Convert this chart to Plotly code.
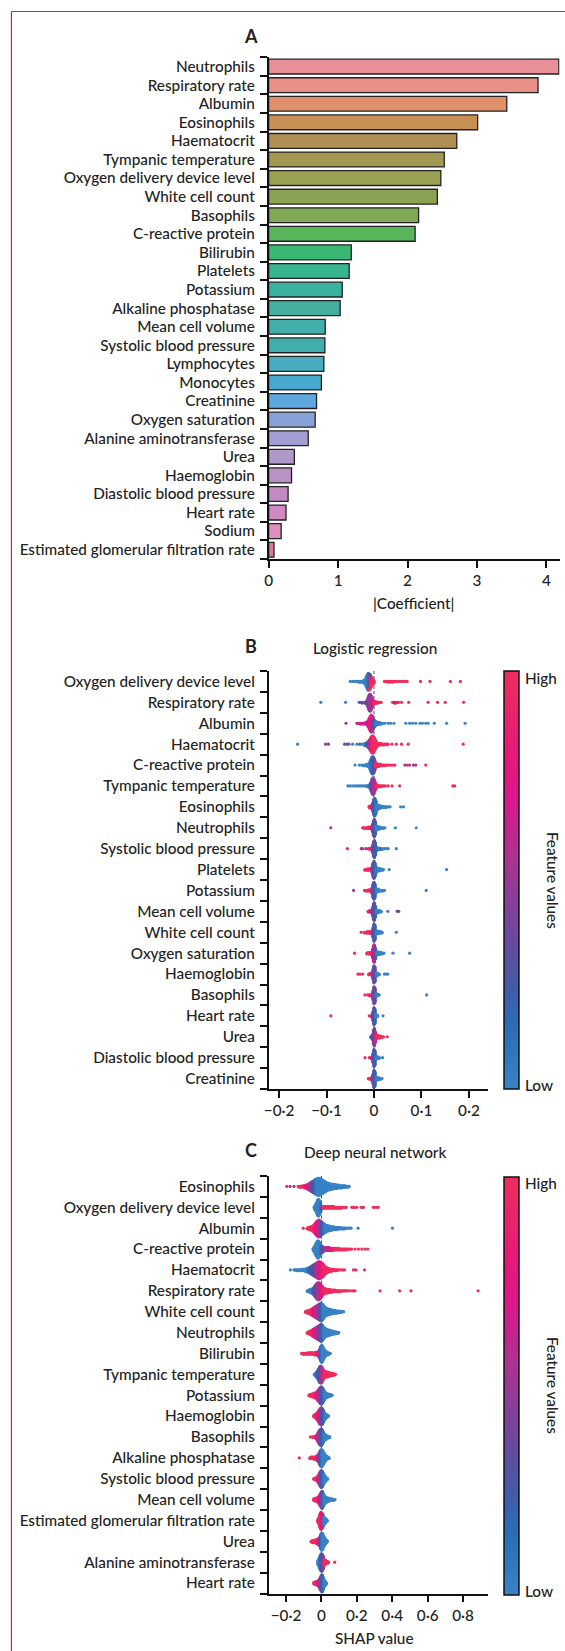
import math
import plotly.graph_objects as go

W, H = 565, 1651
FONT = "Lato"
TXT = "#222222"
WEIGHT = 500

# ---------------- Panel A data ----------------
A_features = ["Neutrophils", "Respiratory rate", "Albumin", "Eosinophils", "Haematocrit",
              "Tympanic temperature", "Oxygen delivery device level", "White cell count",
              "Basophils", "C-reactive protein", "Bilirubin", "Platelets", "Potassium",
              "Alkaline phosphatase", "Mean cell volume", "Systolic blood pressure",
              "Lymphocytes", "Monocytes", "Creatinine", "Oxygen saturation",
              "Alanine aminotransferase", "Urea", "Haemoglobin", "Diastolic blood pressure",
              "Heart rate", "Sodium", "Estimated glomerular filtration rate"]
A_values = [4.18, 3.88, 3.43, 3.01, 2.71, 2.53, 2.48, 2.43, 2.16, 2.11, 1.19, 1.16, 1.06,
            1.03, 0.815, 0.81, 0.795, 0.76, 0.69, 0.67, 0.57, 0.37, 0.33, 0.28, 0.25, 0.18, 0.077]
A_colors = ["#E8909A", "#E89088", "#E09068", "#C89052", "#B09052", "#A39852", "#99A052",
            "#8AA253", "#80A855", "#58B65A", "#3AB772", "#38B58E", "#38B19E", "#44AF9E",
            "#42AEA8", "#42AEAC", "#47ADBE", "#48A8CE", "#5EA7DE", "#88A2D8", "#A2A0D2",
            "#B098C8", "#B892C3", "#C28BC0", "#D08AC2", "#DE8EC0", "#D8789E"]
A_ticks = [0, 1, 2, 3, 4]

# ---------------- Panel B data (logistic regression SHAP) ----------------
B_features = ["Oxygen delivery device level", "Respiratory rate", "Albumin", "Haematocrit",
              "C-reactive protein", "Tympanic temperature", "Eosinophils", "Neutrophils",
              "Systolic blood pressure", "Platelets", "Potassium", "Mean cell volume",
              "White cell count", "Oxygen saturation", "Haemoglobin", "Basophils",
              "Heart rate", "Urea", "Diastolic blood pressure", "Creatinine"]
# each entry: (SHAP value, number of stacked points, feature level 0=low..1=high)
B_swarm = [
    [(-0.050,1,0),(-0.045,1,0),(-0.041,1,0),(-0.038,1,0),(-0.035,1,0),(-0.032,2,0),(-0.029,2,0),(-0.026,2,0),(-0.023,3,0),
     (-0.020,6,0),(-0.018,10,0),(-0.016,16,0),(-0.014,22,0),(-0.012,26,0.1),(-0.010,18,0.2),(-0.010,6,1),(-0.008,14,0.3),(-0.008,8,1),
     (-0.006,6,0.5),(-0.006,10,1),(-0.004,10,1),(-0.002,8,1),(0.000,4,1),
     (0.022,1,1),(0.025,1,1),(0.028,2,1),(0.031,1,1),(0.034,2,1),(0.037,1,1),(0.040,2,1),(0.043,1,1),(0.046,1,1),(0.050,1,1),
     (0.054,1,1),(0.058,1,1),(0.062,1,1),(0.066,1,1),(0.070,1,1),(0.098,1,1),(0.118,1,1),(0.161,1,1),(0.182,1,1)],
    [(-0.112,1,0),(-0.060,1,0),(-0.031,1,0.2),(-0.028,1,0.5),(-0.025,2,0.4),(-0.020,2,0.3),
     (-0.016,4,0.3),(-0.014,10,0.4),(-0.012,18,0.4),(-0.010,24,0.5),(-0.008,26,0.45),(-0.006,22,0.5),(-0.004,14,0.6),(-0.002,8,0.7),(0.000,4,0.8),
     (0.002,4,1),(0.004,3,1),(0.006,2,1),(0.008,2,1),(0.010,1,1),(0.012,1,1),(0.015,1,1),
     (0.039,1,1),(0.043,2,0.5),(0.046,2,0.7),(0.049,1,1),(0.052,1,1),(0.058,1,1),(0.073,1,1),(0.114,1,1),(0.134,1,1),(0.150,1,1),(0.189,1,1)],
    [(-0.059,1,0.5),(-0.036,1,0.6),(-0.033,1,0.7),(-0.030,2,0.6),(-0.027,2,0.7),(-0.024,2,0.8),(-0.021,2,0.6),(-0.018,3,0.7),
     (-0.014,6,0.6),(-0.012,10,0.7),(-0.010,16,0.8),(-0.008,22,0.8),(-0.006,18,1),(-0.006,8,0.4),(-0.004,24,0.7),(-0.002,18,0.5),
     (0.000,12,0.3),(0.002,8,0.2),
     (0.004,6,0),(0.006,5,0),(0.008,4,0),(0.010,3,0),(0.012,3,0),(0.014,2,0),(0.016,2,0),(0.019,1,0),(0.023,1,0),(0.030,1,0),
     (0.035,1,0),(0.042,1,0),(0.067,1,0),(0.075,1,0),(0.081,1,0),(0.088,1,0),(0.097,1,0),(0.102,1,0),(0.109,1,0),(0.114,1,0),
     (0.127,1,0),(0.153,1,0),(0.192,1,0)],
    [(-0.161,1,0),(-0.102,1,0.5),(-0.096,1,0.4),(-0.062,1,0.3),(-0.057,1,0.5),(-0.053,1,0.2),(-0.045,1,0),(-0.036,1,0),(-0.030,1,0.2),(-0.026,1,0),
     (-0.020,4,0),(-0.016,6,0.2),(-0.012,10,0.3),(-0.010,14,0.4),(-0.008,18,0.6),(-0.006,24,0.8),(-0.004,28,0.9),(-0.002,28,1),
     (0.000,24,1),(0.002,18,1),(0.004,12,1),(0.006,8,1),
     (0.009,4,1),(0.012,3,1),(0.015,3,1),(0.018,2,1),(0.021,2,1),(0.024,1,1),(0.027,2,1),(0.030,1,1),(0.038,1,1),(0.047,1,1),
     (0.058,1,1),(0.072,1,1),(0.188,1,1)],
    [(-0.040,1,0),(-0.031,1,0),(-0.026,1,0),(-0.022,2,0),(-0.019,2,0),(-0.016,3,0),(-0.013,4,0),
     (-0.010,8,0),(-0.008,14,0),(-0.006,20,0.1),(-0.004,26,0.1),(-0.002,26,0.2),(0.000,22,0.3),(0.002,14,0.4),
     (0.004,6,1),(0.006,5,1),(0.008,4,1),(0.010,4,1),(0.012,3,1),(0.014,3,1),(0.017,2,1),(0.020,2,1),(0.023,2,1),(0.026,1,1),
     (0.029,1,1),(0.032,1,1),(0.036,1,1),(0.040,1,1),(0.044,1,1),(0.065,1,0.5),(0.070,1,1),(0.075,1,0.5),(0.083,1,0.5),
     (0.088,1,0.6),(0.109,1,1)],
    [(-0.055,1,0),(-0.050,1,0),(-0.045,1,0),(-0.040,1,0),(-0.036,1,0),(-0.032,1,0),(-0.028,1,0),(-0.024,1,0),(-0.020,1,0),
     (-0.017,1,0),(-0.014,2,0),(-0.011,3,0),
     (-0.008,8,0.2),(-0.006,14,0.3),(-0.004,22,0.4),(-0.002,26,0.4),(0.000,22,0.5),(0.002,14,0.6),(0.004,8,0.8),
     (0.006,4,1),(0.009,3,1),(0.012,2,1),(0.015,2,1),(0.018,1,1),(0.021,1,1),(0.024,1,1),(0.030,1,1),(0.038,1,1),
     (0.054,1,1),(0.166,1,1),(0.170,1,1)],
    [(-0.010,3,1),(-0.008,4,1),(-0.006,5,1),(-0.004,6,0.8),
     (-0.002,16,0.5),(0.000,28,0.3),(0.002,30,0.2),(0.004,22,0.1),
     (0.006,10,0),(0.008,8,0),(0.010,6,0),(0.012,5,0),(0.014,4,0),(0.016,3,0),(0.018,3,0),(0.020,2,0),(0.022,2,0),
     (0.025,2,0),(0.028,1,0),(0.031,1,0),(0.034,1,0),(0.056,1,0),(0.062,1,0)],
    [(-0.091,1,0.5),(-0.024,1,1),(-0.021,2,1),(-0.018,2,1),(-0.015,2,1),(-0.012,3,1),(-0.009,3,1),(-0.006,4,0.8),
     (-0.003,14,0.6),(-0.001,26,0.4),(0.001,30,0.3),(0.003,22,0.2),
     (0.005,8,0),(0.008,6,0),(0.011,4,0),(0.014,3,0),(0.017,2,0),(0.020,2,0),(0.023,1,0),(0.045,1,0),(0.089,1,0)],
    [(-0.056,1,1),(-0.027,1,0.5),(-0.024,1,0.6),(-0.017,1,0.5),(-0.012,1,0.8),(-0.009,2,1),(-0.006,3,0.8),
     (-0.003,12,0.6),(-0.001,24,0.4),(0.001,28,0.3),(0.003,20,0.2),
     (0.005,6,0.2),(0.008,4,0.1),(0.011,3,0),(0.014,2,0.2),(0.018,2,0),(0.022,1,0),(0.026,1,0),(0.030,1,0),(0.047,1,0)],
    [(-0.019,2,1),(-0.016,2,1),(-0.013,3,1),(-0.010,3,1),(-0.007,3,1),
     (-0.004,10,0.6),(-0.002,22,0.5),(0.000,28,0.3),(0.002,22,0.2),(0.004,12,0.1),
     (0.006,6,0),(0.009,5,0),(0.012,4,0),(0.015,3,0),(0.018,2,0),(0.020,1,0),(0.032,1,0),(0.153,1,0)],
    [(-0.043,1,0.5),(-0.020,1,1),(-0.017,2,1),(-0.014,2,1),(-0.011,3,1),(-0.008,3,1),
     (-0.004,10,0.6),(-0.002,22,0.5),(0.000,28,0.3),(0.002,22,0.2),
     (0.005,6,0),(0.008,5,0),(0.011,3,0),(0.014,2,0),(0.018,2,0),(0.022,1,0),(0.110,1,0)],
    [(-0.012,2,0.6),(-0.009,3,0.8),(-0.006,4,0.8),
     (-0.003,14,0.6),(-0.001,26,0.4),(0.001,28,0.3),(0.003,18,0.2),
     (0.006,6,0),(0.009,4,0),(0.012,3,0),(0.015,2,0),(0.029,1,0),(0.049,1,0.4),(0.052,1,0.3)],
    [(-0.027,1,0.5),(-0.020,2,1),(-0.017,2,1),(-0.014,3,1),(-0.011,3,1),(-0.008,4,1),(-0.005,4,0.8),
     (-0.002,16,0.5),(0.000,28,0.3),(0.002,24,0.2),
     (0.005,6,0),(0.008,5,0),(0.011,4,0),(0.014,3,0),(0.017,2,0),(0.047,1,0)],
    [(-0.041,1,1),(-0.015,2,1),(-0.012,3,1),(-0.009,3,1),(-0.006,4,1),
     (-0.003,14,0.8),(-0.001,26,0.7),(0.001,28,0.5),(0.003,18,0.3),
     (0.006,6,0),(0.009,5,0),(0.012,4,0),(0.015,3,0),(0.018,2,0),(0.021,1,0),(0.040,1,0),(0.075,1,0)],
    [(-0.034,1,1),(-0.030,1,1),(-0.024,1,1),(-0.011,2,1),(-0.008,3,1),(-0.005,4,0.8),
     (-0.002,16,0.6),(0.000,28,0.4),(0.002,24,0.3),
     (0.005,6,0),(0.008,4,0),(0.011,2,0),(0.022,1,0),(0.026,1,0),(0.029,1,0)],
    [(-0.019,1,1),(-0.013,1,1),(-0.010,2,1),(-0.007,2,1),(-0.004,4,0.8),
     (-0.002,14,0.6),(0.000,26,0.4),(0.002,22,0.3),
     (0.005,5,0),(0.008,3,0),(0.011,1,0),(0.111,1,0)],
    [(-0.091,1,1),(-0.010,1,1),(-0.006,2,1),(-0.004,4,0.6),
     (-0.002,14,0.4),(0.000,26,0.3),(0.002,22,0.2),
     (0.004,5,0),(0.007,3,0),(0.019,1,0)],
    [(-0.007,2,0),(-0.005,4,0.2),(-0.003,8,0.4),
     (-0.001,22,0.4),(0.001,26,0.4),(0.003,16,0.6),
     (0.005,6,1),(0.008,5,1),(0.011,4,1),(0.014,3,1),(0.017,2,1),(0.020,1,1),(0.028,1,1)],
    [(-0.019,1,1),(-0.010,1,1),(-0.006,2,1),(-0.004,4,0.7),
     (-0.002,14,0.5),(0.000,26,0.3),(0.002,22,0.2),
     (0.005,5,0),(0.008,3,0),(0.011,2,0),(0.018,1,0)],
    [(-0.012,1,1),(-0.009,2,1),(-0.006,3,1),(-0.004,4,0.7),
     (-0.002,14,0.5),(0.000,26,0.3),(0.002,22,0.2),
     (0.005,5,0),(0.008,4,0),(0.011,3,0),(0.014,2,0),(0.017,1,0)],
]
B_ticks = [-0.2, -0.1, 0, 0.1, 0.2]
B_ticktext = ["\u22120\u00b72", "\u22120\u00b71", "0", "0\u00b71", "0\u00b72"]

# ---------------- Panel C data (deep neural network SHAP) ----------------
C_features = ["Eosinophils", "Oxygen delivery device level", "Albumin", "C-reactive protein",
              "Haematocrit", "Respiratory rate", "White cell count", "Neutrophils", "Bilirubin",
              "Tympanic temperature", "Potassium", "Haemoglobin", "Basophils",
              "Alkaline phosphatase", "Systolic blood pressure", "Mean cell volume",
              "Estimated glomerular filtration rate", "Urea", "Alanine aminotransferase", "Heart rate"]
C_swarm = [
    [(-0.196,1,1),(-0.177,1,0.6),(-0.155,1,0.5),(-0.131,1,1),(-0.125,2,1),(-0.118,2,1),(-0.112,2,1),(-0.106,3,1),(-0.100,3,1),
     (-0.094,4,0.9),(-0.088,5,0.8),(-0.082,6,0.8),(-0.076,8,0.7),(-0.070,10,0.6),(-0.064,12,0.5),
     (-0.058,14,0.5),(-0.052,16,0.4),(-0.046,18,0.3),(-0.040,20,0.2),(-0.034,22,0.1),(-0.028,24,0.05),(-0.022,26,0),
     (-0.016,26,0),(-0.010,26,0),(-0.004,24,0),(0.002,22,0),(0.008,20,0),(0.014,18,0),(0.020,16,0),
     (0.026,14,0),(0.032,12,0),(0.038,11,0),(0.044,10,0),(0.050,9,0),(0.056,8,0),(0.062,8,0),(0.068,7,0),(0.074,7,0),
     (0.080,6,0),(0.086,6,0),(0.092,5,0),(0.098,5,0),(0.104,4,0),(0.110,4,0),(0.116,4,0),(0.122,3,0),(0.128,3,0),
     (0.134,3,0),(0.140,2,0),(0.146,2,0),(0.152,2,0),(0.157,1,0)],
    [(-0.040,4,0),(-0.034,8,0),(-0.028,14,0),(-0.022,20,0),(-0.016,22,0),(-0.010,18,0),(-0.004,10,0.1),(0.002,4,0.3),
     (0.010,3,1),(0.016,3,1),(0.022,3,1),(0.028,3,1),(0.034,3,1),(0.040,3,1),(0.046,3,1),(0.052,3,1),(0.058,3,1),
     (0.064,3,1),(0.070,3,1),(0.076,2,1),(0.082,2,1),(0.088,2,1),(0.094,2,1),(0.100,2,1),(0.106,2,1),(0.112,2,1),
     (0.118,1,1),(0.124,1,1),(0.130,1,1),(0.140,1,1),(0.172,1,1),(0.180,1,1),(0.186,1,1),(0.200,1,1),(0.224,1,1),
     (0.230,1,1),(0.237,1,1),(0.293,1,1),(0.300,1,1),(0.314,1,1),(0.321,1,1)],
    [(-0.103,1,1),(-0.080,2,1),(-0.074,3,1),(-0.068,4,1),(-0.062,5,1),(-0.056,6,1),(-0.050,8,1),(-0.044,10,1),
     (-0.038,14,0.9),(-0.032,18,0.8),(-0.026,22,0.8),(-0.020,24,0.7),(-0.014,26,0.6),(-0.008,24,0.5),(-0.002,22,0.4),
     (0.004,18,0.3),(0.010,16,0.2),(0.016,14,0.1),(0.022,12,0),
     (0.028,10,0),(0.034,9,0),(0.040,8,0),(0.046,7,0),(0.052,6,0),(0.058,6,0),(0.064,5,0),(0.070,5,0),(0.076,4,0),
     (0.082,4,0),(0.088,4,0),(0.094,3,0),(0.100,3,0),(0.106,3,0),(0.112,2,0),(0.118,2,0),(0.124,2,0),(0.130,2,0),
     (0.136,1,0),(0.142,1,0),(0.150,1,0),(0.160,1,0),(0.168,1,0),(0.207,1,0),(0.401,1,0)],
    [(-0.046,4,0),(-0.040,8,0),(-0.034,14,0),(-0.028,20,0),(-0.022,24,0),(-0.016,24,0),(-0.010,20,0),(-0.004,14,0.1),
     (0.002,10,0.2),(0.008,8,0.3),(0.014,6,0.4),
     (0.020,5,0.5),(0.026,5,0.5),(0.032,5,0.6),(0.038,5,0.6),(0.044,5,0.7),(0.050,4,0.7),(0.056,4,0.8),(0.062,4,0.8),
     (0.068,4,0.9),(0.074,3,1),(0.080,3,1),(0.086,3,1),(0.092,3,1),(0.098,3,1),(0.104,2,1),(0.110,2,1),(0.116,2,1),
     (0.122,2,1),(0.128,2,1),(0.134,2,1),(0.140,1,1),(0.146,2,1),(0.152,1,1),(0.160,1,1),(0.170,1,1),(0.190,1,1),
     (0.209,1,1),(0.228,1,1),(0.246,1,1),(0.262,1,1)],
    [(-0.175,1,0),(-0.155,1,0),(-0.148,1,0),(-0.141,2,0),(-0.134,2,0),(-0.127,2,0),(-0.120,2,0),(-0.113,3,0),(-0.106,3,0),
     (-0.099,3,0),(-0.092,4,0),(-0.085,5,0),(-0.078,6,0.1),(-0.071,8,0.1),(-0.064,10,0.2),(-0.058,12,0.2),
     (-0.052,14,0.3),(-0.046,16,0.3),(-0.040,18,0.4),(-0.034,20,0.4),(-0.028,22,0.5),(-0.022,24,0.6),(-0.016,26,0.6),
     (-0.010,26,0.7),(-0.004,24,0.8),(0.002,22,0.8),(0.008,20,0.9),(0.014,16,0.9),(0.020,12,1),(0.026,10,1),(0.032,8,1),
     (0.038,6,1),(0.044,5,1),(0.050,4,1),(0.056,4,1),(0.062,3,1),(0.068,3,1),(0.074,2,1),(0.080,2,1),(0.086,2,1),
     (0.092,1,1),(0.100,1,1),(0.110,1,1),(0.120,1,1),(0.130,1,1),(0.181,1,1),(0.194,1,1),(0.243,1,1)],
    [(-0.080,2,0),(-0.074,3,0),(-0.068,4,0),(-0.062,5,0),(-0.056,6,0),(-0.050,8,0.1),(-0.044,10,0.2),
     (-0.038,14,0.3),(-0.032,18,0.4),(-0.026,22,0.4),(-0.020,24,0.5),(-0.014,24,0.5),(-0.008,22,0.6),(-0.002,18,0.7),
     (0.004,14,0.8),(0.010,10,0.9),(0.016,8,1),
     (0.022,7,1),(0.028,6,1),(0.034,6,1),(0.040,5,1),(0.046,5,1),(0.052,4,1),(0.058,4,1),(0.064,3,1),(0.070,3,1),
     (0.076,3,1),(0.082,2,1),(0.088,2,1),(0.094,2,1),(0.100,2,1),(0.106,2,1),(0.112,1,1),(0.118,1,1),(0.124,1,1),
     (0.130,1,1),(0.136,1,1),(0.142,1,1),(0.150,1,1),(0.158,1,1),(0.172,1,1),(0.181,1,1),(0.190,1,1),(0.331,1,1),
     (0.442,1,1),(0.506,1,1),(0.885,1,1)],
    [(-0.090,2,1),(-0.084,3,1),(-0.078,4,1),(-0.072,5,1),(-0.066,6,1),(-0.060,8,1),(-0.054,10,0.9),(-0.048,12,0.8),
     (-0.042,14,0.8),(-0.036,16,0.7),(-0.030,18,0.6),(-0.024,20,0.6),(-0.018,22,0.5),(-0.012,24,0.4),(-0.006,26,0.3),
     (0.000,26,0.2),(0.006,24,0.1),(0.012,20,0),(0.018,16,0),(0.024,13,0),
     (0.030,11,0),(0.036,10,0),(0.042,9,0),(0.048,8,0),(0.054,7,0),(0.060,6,0),(0.066,6,0),(0.072,5,0),(0.078,5,0),
     (0.084,4,0),(0.090,4,0),(0.096,3,0),(0.102,3,0),(0.108,2,0),(0.114,2,0),(0.120,1,0),(0.126,1,0)],
    [(-0.080,2,1),(-0.074,3,1),(-0.068,4,1),(-0.062,6,1),(-0.056,8,1),(-0.050,10,0.9),(-0.044,12,0.8),
     (-0.038,14,0.8),(-0.032,16,0.7),(-0.026,18,0.6),(-0.020,20,0.5),(-0.014,22,0.4),(-0.008,24,0.4),(-0.002,26,0.3),
     (0.004,24,0.2),(0.010,20,0.1),(0.016,16,0),(0.022,13,0),
     (0.028,11,0),(0.034,10,0),(0.040,9,0),(0.046,8,0),(0.052,7,0),(0.058,6,0),(0.064,5,0),(0.070,4,0),(0.076,4,0),
     (0.082,3,0),(0.088,2,0),(0.094,2,0),(0.098,1,0)],
    [(-0.112,1,1),(-0.106,2,1),(-0.100,2,1),(-0.094,2,1),(-0.088,2,1),(-0.082,2,1),(-0.076,3,1),(-0.070,3,1),(-0.064,3,1),
     (-0.058,3,1),(-0.052,3,1),(-0.046,3,1),(-0.040,4,1),(-0.034,4,1),(-0.028,5,0.9),(-0.022,6,0.8),(-0.016,8,0.6),
     (-0.010,14,0.4),(-0.004,22,0.2),(0.002,26,0.1),(0.008,22,0),(0.014,16,0),(0.020,10,0),
     (0.026,7,0),(0.032,5,0),(0.038,4,0),(0.044,2,0),(0.050,1,0)],
    [(-0.040,2,0),(-0.034,4,0),(-0.028,8,0.1),(-0.022,12,0.2),
     (-0.016,18,0.3),(-0.010,24,0.3),(-0.004,26,0.4),(0.002,24,0.5),(0.008,18,0.6),
     (0.014,12,0.9),(0.020,10,1),(0.026,9,1),(0.032,8,1),(0.038,7,1),(0.044,6,1),(0.050,5,1),(0.056,4,1),(0.062,4,1),
     (0.068,3,1),(0.074,2,1),(0.080,1,1)],
    [(-0.070,2,1),(-0.064,3,1),(-0.058,4,1),(-0.052,5,1),(-0.046,6,1),(-0.040,7,1),(-0.034,8,0.9),(-0.028,10,0.8),
     (-0.022,14,0.7),(-0.016,18,0.6),(-0.010,22,0.5),(-0.004,26,0.4),(0.002,26,0.3),(0.008,22,0.2),(0.014,16,0.1),
     (0.020,11,0),(0.026,8,0),(0.032,6,0),(0.038,5,0),(0.044,4,0),(0.050,3,0),(0.056,2,0),(0.060,1,0)],
    [(-0.043,3,1),(-0.037,5,1),(-0.031,7,1),(-0.025,10,0.9),
     (-0.019,14,0.8),(-0.013,20,0.7),(-0.007,24,0.6),(-0.001,26,0.4),(0.005,24,0.3),(0.011,18,0.2),(0.017,12,0.1),
     (0.023,8,0),(0.029,5,0),(0.035,3,0),(0.041,1,0)],
    [(-0.062,1,1),(-0.049,2,1),(-0.043,2,1),(-0.037,3,1),(-0.031,4,0.9),
     (-0.025,8,0.7),(-0.019,14,0.6),(-0.013,20,0.5),(-0.007,24,0.4),(-0.001,26,0.3),(0.005,22,0.2),(0.011,16,0.1),
     (0.017,10,0),(0.023,8,0),(0.029,6,0),(0.035,4,0),(0.041,3,0),(0.047,2,0)],
    [(-0.125,1,1),(-0.065,2,1),(-0.059,3,1),(-0.053,3,1),(-0.047,3,1),(-0.041,4,1),(-0.035,4,1),(-0.029,5,0.9),
     (-0.023,8,0.7),(-0.017,12,0.5),(-0.011,18,0.4),(-0.005,24,0.2),(0.001,26,0.1),(0.007,24,0),(0.013,18,0),
     (0.019,12,0),(0.025,8,0),(0.031,5,0),(0.037,3,0),(0.043,2,0)],
    [(-0.043,2,1),(-0.037,3,1),(-0.031,4,1),(-0.025,6,0.9),
     (-0.019,10,0.8),(-0.013,16,0.6),(-0.007,22,0.5),(-0.001,26,0.3),(0.005,24,0.2),(0.011,18,0.1),
     (0.017,12,0),(0.023,8,0),(0.029,4,0),(0.035,2,0)],
    [(-0.043,3,1),(-0.037,4,1),(-0.031,5,1),(-0.025,6,1),(-0.019,8,0.9),
     (-0.013,12,0.8),(-0.007,18,0.7),(-0.001,24,0.5),(0.005,26,0.3),(0.011,20,0.1),
     (0.017,14,0),(0.023,10,0),(0.029,8,0),(0.035,6,0),(0.041,5,0),(0.047,4,0),(0.053,3,0),(0.059,3,0),(0.065,2,0),
     (0.071,2,0),(0.077,1,0)],
    [(-0.021,4,1),(-0.015,10,1),
     (-0.009,20,1),(-0.003,26,0.9),(0.003,24,0.8),(0.009,18,0.5),
     (0.015,12,0),(0.021,8,0),(0.027,5,0),(0.033,2,0)],
    [(-0.058,2,1),(-0.052,3,1),(-0.046,4,1),(-0.040,4,1),(-0.034,5,1),(-0.028,6,1),(-0.022,8,0.9),(-0.016,10,0.7),
     (-0.010,14,0.5),(-0.004,22,0.3),(0.002,26,0.1),(0.008,24,0),(0.014,16,0),
     (0.020,10,0),(0.026,6,0),(0.032,3,0)],
    [(-0.020,6,0),(-0.014,12,0),
     (-0.008,20,0.1),(-0.002,26,0.2),(0.004,26,0.3),(0.010,20,0.4),
     (0.016,10,1),(0.022,7,1),(0.028,5,1),(0.034,3,1),(0.040,2,1),(0.075,1,1)],
    [(-0.043,3,1),(-0.037,4,1),(-0.031,5,1),(-0.025,6,0.9),(-0.019,8,0.8),
     (-0.013,12,0.6),(-0.007,18,0.5),(-0.001,24,0.4),(0.005,26,0.2),(0.011,18,0.1),
     (0.017,10,0),(0.023,6,0),(0.029,2,0)],
]
C_ticks = [-0.2, 0, 0.2, 0.4, 0.6, 0.8]
C_ticktext = ["\u22120\u00b72", "0", "0\u00b72", "0\u00b74", "0\u00b76", "0\u00b78"]

SHAP_SCALE = [[0.0, "#3A82C6"], [0.15, "#2A6DB6"], [0.25, "#4659A8"], [0.35, "#664B9E"],
              [0.45, "#873F98"], [0.55, "#AC3392"], [0.7, "#DC178C"], [0.8, "#E8187A"],
              [1.0, "#EE2D5E"]]


# ---------------- helpers ----------------
def px_x(p):
    return p / W


def px_y(p):
    return 1 - p / H


def swarm(entries, row, max_off=0.42):
    bins, order = {}, []
    for x, n, c in entries:
        if x not in bins:
            bins[x] = []
            order.append(x)
        bins[x].extend([c] * n)
    maxhalf = max(math.ceil((len(v) - 1) / 2) for v in bins.values())
    step = max_off / maxhalf if maxhalf > 0 else 0
    xs, ys, cs = [], [], []
    for x in order:
        cols = bins[x]
        perm = sorted(range(len(cols)), key=lambda i: (i * 0.6180339887) % 1.0)
        for layer, i in enumerate(perm):
            off = math.ceil(layer / 2) * (1 if layer % 2 else -1)
            xs.append(x)
            ys.append(row + off * step)
            cs.append(cols[i])
    return xs, ys, cs


fig = go.Figure()

# ---------------- Panel A ----------------
fig.add_trace(go.Bar(
    x=A_values, y=list(range(len(A_features))), orientation="h", width=0.8,
    marker=dict(color=A_colors, line=dict(color="#222222", width=1.3)),
    xaxis="x", yaxis="y", showlegend=False, hoverinfo="skip"))

# ---------------- Panels B, C ----------------
for feats, data, xa, ya, cax in [(B_features, B_swarm, "x2", "y2", "coloraxis"),
                                 (C_features, C_swarm, "x3", "y3", "coloraxis2")]:
    for r, entries in enumerate(data):
        xs, ys, cs = swarm(entries, r)
        fig.add_trace(go.Scatter(
            x=xs, y=ys, mode="markers", xaxis=xa, yaxis=ya, showlegend=False,
            hoverinfo="skip",
            marker=dict(size=3.2, color=cs, coloraxis=cax, line=dict(width=0))))

tickfont = dict(family=FONT, size=15.3, color=TXT, weight=WEIGHT)
axline = dict(showline=True, linecolor="#111111", linewidth=1.5, showgrid=False,
              zeroline=False)


def yaxis_cfg(feats, top, bottom):
    n = len(feats)
    return dict(domain=[px_y(bottom), px_y(top)], range=[n - 0.5, -0.5],
                tickmode="array", tickvals=list(range(n)), ticktext=feats,
                ticks="outside", ticklen=9, tickcolor="rgba(0,0,0,0)",
                tickfont=tickfont,
                minor=dict(tickmode="array", tickvals=[i - 0.5 for i in range(n + 1)],
                           ticks="outside", ticklen=7, tickwidth=1.5, tickcolor="#111111",
                           showgrid=False),
                **axline)


X0 = 266
fig.update_layout(
    width=W, height=H, margin=dict(l=0, r=0, t=0, b=0),
    paper_bgcolor="white", plot_bgcolor="white",
    font=dict(family=FONT, color=TXT, weight=WEIGHT),
    xaxis=dict(domain=[px_x(X0), px_x(559.5)], range=[0, 4.19], anchor="y",
               tickmode="array", tickvals=A_ticks, ticks="outside", ticklen=7,
               tickwidth=1.5, tickcolor="#111111", tickfont=tickfont, **axline),
    yaxis=dict(anchor="x", **yaxis_cfg(A_features, 57.3, 559)),
    xaxis2=dict(domain=[px_x(X0), px_x(487.2)], range=[-0.222, 0.240], anchor="y2",
                tickmode="array", tickvals=B_ticks, ticktext=B_ticktext, ticks="outside",
                ticklen=7, tickwidth=1.5, tickcolor="#111111", tickfont=tickfont, **axline),
    yaxis2=dict(anchor="x2", **yaxis_cfg(B_features, 671, 1089)),
    xaxis3=dict(domain=[px_x(X0), px_x(487.2)], range=[-0.298, 0.94], anchor="y3",
                tickmode="array", tickvals=C_ticks, ticktext=C_ticktext, ticks="outside",
                ticklen=7, tickwidth=1.5, tickcolor="#111111", tickfont=tickfont, **axline),
    yaxis3=dict(anchor="x3", **yaxis_cfg(C_features, 1176, 1593.5)),
    coloraxis=dict(cmin=0, cmax=1, colorscale=SHAP_SCALE,
                   colorbar=dict(x=px_x(503), xanchor="left", y=px_y(671), yanchor="top",
                                 lenmode="pixels", len=418, thickness=15, xpad=0, ypad=0,
                                 outlinewidth=1.5, outlinecolor="#111111",
                                 showticklabels=False, ticks="")),
    coloraxis2=dict(cmin=0, cmax=1, colorscale=SHAP_SCALE,
                    colorbar=dict(x=px_x(503), xanchor="left", y=px_y(1176.5), yanchor="top",
                                  lenmode="pixels", len=417.5, thickness=15, xpad=0, ypad=0,
                                  outlinewidth=1.5, outlinecolor="#111111",
                                  showticklabels=False, ticks="")),
)

# dashed zero lines and frame
shapes = []
for xa, ya in [("x2", "y2"), ("x3", "y3")]:
    shapes.append(dict(type="line", xref=xa, yref=ya + " domain", x0=0, x1=0, y0=0, y1=1,
                       layer="below", line=dict(color="#4a4a4a", width=1, dash="3px,2px")))
shapes.append(dict(type="line", xref="paper", yref="paper", x0=px_x(6.5), x1=px_x(6.5),
                   y0=0, y1=px_y(11.5), line=dict(color="#C4284F", width=1.2)))
shapes.append(dict(type="line", xref="paper", yref="paper", x0=px_x(6.5), x1=1,
                   y0=px_y(11.5), y1=px_y(11.5), line=dict(color="#C4284F", width=1.2)))
fig.update_layout(shapes=shapes)


def ann(text, x, y, size=15.3, xanchor="center", bold=False, angle=0):
    return dict(text=text, x=px_x(x), y=px_y(y),
                xref="paper", yref="paper", xanchor=xanchor, yanchor="middle",
                showarrow=False, textangle=angle,
                font=dict(family=FONT, size=size, color=TXT, weight=700 if bold else WEIGHT))


fig.update_layout(annotations=[
    ann("A", 248, 36, size=18, bold=True),
    ann("|Coefficient|", 412, 603),
    ann("B", 248, 646, size=18, bold=True),
    ann("Logistic regression", 373, 648),
    ann("High", 523, 678, xanchor="left"),
    ann("Low", 523, 1085, xanchor="left"),
    ann("Feature values", 553, 880, angle=90),
    ann("C", 248, 1150, size=18, bold=True),
    ann("Deep neural network", 373, 1152),
    ann("High", 523, 1183, xanchor="left"),
    ann("Low", 523, 1591, xanchor="left"),
    ann("Feature values", 553, 1385, angle=90),
    ann("SHAP value", 373, 1638),
])

fig.write_html("out.html")
